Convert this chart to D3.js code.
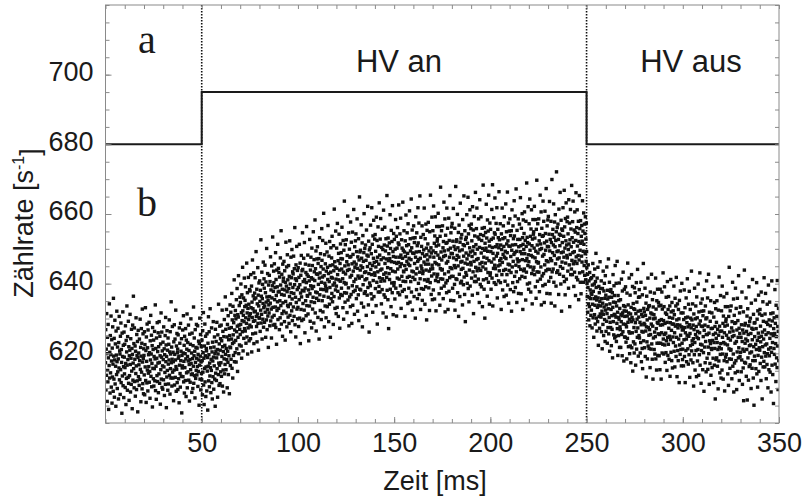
<!DOCTYPE html>
<html><head><meta charset="utf-8">
<script src="https://cdn.jsdelivr.net/npm/d3@7"></script>
<style>html,body{margin:0;padding:0;background:#fff;}svg{display:block;}</style>
</head><body>
<svg id="chart" width="806" height="497"></svg>
<script>
// ---- data ----
const sampleStep = 0.125; // ms between samples
const blockStarts = [0, 50, 100, 150, 200, 250, 300];
const rate000 = [
617.3,626.8,609.5,621.2,613.7,631.4,619.9,606.2,624.6,615.1,611.8,628.3,618.7,603.9,622.4,616.5,634.2,612.9,620.3,608.6,
625.1,614.4,619.6,630.7,610.3,617.8,623.9,605.7,621.5,613.2,627.6,616.9,609.1,635.8,619.2,612.6,624.3,607.4,618.1,629.5,
611.2,622.7,616.3,604.8,626.4,619.5,613.9,632.1,617.6,609.9,621.8,614.7,627.2,618.4,606.9,623.1,615.8,630.6,612.4,620.7,
619.8,608.2,624.9,615.3,628.7,611.6,621.1,617.4,602.8,625.8,613.5,619.1,631.9,610.7,622.3,616.2,607.3,626.1,618.9,614.1,
622.6,615.9,610.2,627.9,617.1,605.3,623.7,612.8,620.4,633.6,616.6,609.4,624.8,618.2,613.1,629.2,611.4,621.9,606.5,619.3,
613.6,620.9,631.2,616.8,608.9,624.2,618.6,611.1,626.9,614.9,621.4,604.1,619.7,628.1,612.3,617.2,636.4,615.6,622.8,610.1,
627.3,611.9,618.3,622.1,607.7,620.6,614.2,630.2,616.4,609.6,625.4,619.4,612.1,623.4,603.2,618.8,626.6,613.3,620.1,616.7,
610.8,624.1,617.9,612.5,629.8,615.4,621.7,606.1,619.2,627.1,614.6,622.9,609.8,632.7,617.5,611.3,625.6,618.5,608.4,621.3,
619.4,613.8,626.2,608.1,622.5,616.1,633.1,612.2,620.8,605.9,624.7,617.7,611.5,628.4,615.2,621.6,609.2,626.7,614.3,619.6,
616.2,628.9,611.7,620.2,614.8,607.1,623.6,618.1,630.9,613.4,619.8,625.2,610.4,617.1,622.2,604.6,627.4,615.7,621.1,612.7,
623.8,610.6,619.1,615.6,626.3,612.1,618.4,633.9,609.3,621.4,616.3,606.8,624.4,618.6,613.6,628.8,611.9,620.5,617.2,625.9,
608.7,621.9,614.1,629.1,617.4,611.4,624.9,619.3,605.4,622.7,615.3,631.6,612.6,618.9,626.1,610.2,620.7,616.4,609.7,623.2,
618.2,612.4,627.6,616.1,621.3,607.9,619.6,614.5,625.1,611.1,630.3,617.6,622.4,604.4,619.1,613.2,626.5,615.1,620.9,609.4,
624.4,616.9,611.2,622.6,618.1,629.6,613.7,620.4,608.3,626.2,615.6,619.8,612.9,634.8,617.3,621.8,610.6,618.3,627.7,614.6,
612.9,620.3,617.6,606.4,623.3,615.2,628.2,610.9,619.7,624.1,613.1,618.1,632.4,616.2,609.1,622.1,615.4,625.7,611.6,620.2,
621.2,609.6,625.3,618.6,612.7,619.2,605.8,627.3,616.6,622.9,614.2,610.3,628.6,617.9,620.6,613.4,624.2,602.9,619.4,615.8,
616.4,626.7,613.3,620.1,630.8,611.8,617.7,622.3,608.6,624.9,615.9,619.9,612.2,627.1,618.4,607.6,623.8,614.4,621.2,631.3,
610.1,619.1,623.1,614.7,617.8,628.1,612.3,620.8,616.8,606.3,625.5,618.2,611.7,622.6,615.3,629.9,617.1,613.9,620.1,608.8,
625.8,614.1,618.5,609.9,622.2,616.3,633.3,611.4,619.3,624.4,613.6,620.6,607.2,626.8,617.4,612.8,621.7,615.1,628.3,618.6,
613.8,621.5,616.2,627.9,610.5,619.7,614.8,623.5,618.1,605.1,622.8,616.6,630.1,612.6,619.2,625.4,609.5,617.6,621.9,614.2];
const rate050 = [
612.4,623.8,617.9,608.1,626.5,614.6,620.2,631.7,610.9,618.6,605.3,622.1,615.7,628.4,611.8,619.3,624.9,607.6,616.1,621.4,
620.7,609.2,625.6,614.9,618.8,603.7,622.9,616.3,630.5,612.1,619.6,626.2,610.4,617.2,613.5,632.8,615.9,621.6,608.7,618.3,
615.1,627.3,611.6,620.4,606.9,623.2,617.8,613.3,629.1,618.9,609.7,621.8,616.4,624.7,612.6,619.9,604.8,626.9,614.3,620.6,
623.4,612.2,618.7,628.9,615.6,621.1,607.4,625.3,619.8,613.9,634.1,617.2,610.8,622.7,616.6,627.8,611.3,620.9,624.2,614.7,
617.3,628.1,613.4,623.6,619.1,632.4,610.6,621.9,626.3,615.2,620.5,608.9,624.8,618.4,629.7,614.1,622.3,616.8,636.2,619.7,
626.9,615.3,621.4,632.6,618.2,624.7,610.1,628.3,620.6,617.4,630.8,613.9,623.9,619.3,627.2,608.4,625.1,621.8,633.9,616.5,
621.6,631.8,618.3,627.4,624.1,637.2,615.7,629.6,622.8,612.9,633.5,625.3,619.4,628.8,623.2,641.1,617.6,626.7,630.9,620.2,
632.3,623.7,629.9,617.5,635.4,626.2,621.3,638.6,627.8,614.8,631.1,624.6,630.4,642.3,619.9,628.1,633.7,622.4,626.9,636.1,
625.4,634.6,628.3,639.9,622.1,631.7,618.6,636.8,629.4,626.2,644.7,632.2,620.7,630.9,635.9,624.3,629.1,641.6,627.1,633.4,
635.2,626.4,639.1,630.2,622.9,633.8,628.6,645.9,624.7,631.6,637.4,619.8,632.9,627.3,641.8,629.7,634.1,623.6,630.7,638.3,
628.1,637.9,631.4,624.2,642.6,633.1,627.6,639.3,620.4,634.7,630.3,646.8,625.6,632.8,636.5,629.2,643.1,622.8,631.9,635.6,
637.3,629.4,641.7,632.1,625.8,635.9,649.2,630.6,627.7,638.4,623.3,634.2,631.3,644.6,628.6,636.7,620.9,633.6,640.2,630.1,
630.2,640.8,634.9,626.3,638.1,632.4,652.6,628.7,636.4,631.2,643.3,624.1,635.7,639.8,629.8,634.3,646.2,627.5,633.1,641.4,
638.7,628.9,633.6,645.3,631.8,637.4,624.6,640.5,634.7,629.6,650.1,636.2,626.8,632.6,642.9,630.7,635.2,621.7,639.6,633.9,
631.6,642.4,636.3,627.9,640.6,634.4,647.7,629.3,638.2,632.7,624.4,645.1,635.9,630.4,639.4,653.4,633.2,628.1,637.8,643.6,
640.3,630.9,645.7,635.4,628.3,638.9,633.3,648.9,627.4,641.2,636.6,622.6,643.9,632.3,639.1,634.8,651.3,629.7,637.6,644.4,
632.9,643.2,637.8,626.8,641.9,635.1,630.2,647.4,639.6,633.7,655.2,628.4,636.9,642.7,631.4,638.4,624.9,645.6,634.5,640.7,
641.6,632.1,646.4,636.7,629.1,643.7,638.2,623.8,640.4,634.9,651.9,631.6,639.3,644.8,627.6,637.7,648.3,633.8,641.1,630.4,
633.4,645.2,638.6,628.6,642.1,636.3,652.3,630.9,639.9,634.2,626.2,647.6,637.4,641.7,632.2,649.8,635.6,629.4,643.4,638.9,
642.8,633.3,647.9,637.2,630.6,644.3,639.7,656.1,628.2,641.4,636.1,624.7,645.4,634.6,640.9,650.7,632.7,638.3,643.8,629.9];
const rate100 = [
633.2,644.6,638.9,627.7,641.8,635.4,651.3,630.1,639.7,645.9,622.8,637.3,642.4,632.6,648.1,636.2,629.4,643.7,638.1,654.6,
644.1,634.3,640.6,629.8,647.3,637.9,632.4,651.8,641.2,625.9,638.7,645.6,635.1,643.2,630.8,640.3,656.4,633.7,642.6,636.6,
636.4,648.2,631.3,642.1,638.2,623.6,645.3,640.8,633.6,652.7,637.1,629.2,643.9,639.4,647.6,634.8,641.7,627.3,650.2,638.6,
645.2,632.7,641.3,636.1,654.9,639.2,628.7,646.9,643.4,634.6,640.9,658.3,631.6,644.3,637.6,649.4,626.4,642.8,635.8,647.1,
637.4,650.6,642.7,630.3,645.8,639.8,635.2,647.2,624.1,641.6,653.2,636.8,643.1,632.3,648.6,638.4,644.9,629.7,640.4,655.8,
646.7,635.1,641.9,652.4,631.9,644.2,638.3,660.2,636.4,642.3,627.6,648.3,640.1,633.6,645.7,639.3,651.6,630.2,643.6,637.9,
638.6,649.1,633.4,644.7,641.2,656.7,636.1,642.9,629.1,647.9,640.6,634.1,652.1,638.9,645.2,624.6,643.3,650.3,635.7,641.8,
647.4,637.2,653.6,641.6,634.8,645.4,639.6,628.3,650.9,643.7,636.3,661.4,640.2,646.3,632.9,644.8,638.2,655.1,641.3,631.4,
639.3,650.2,644.4,633.2,657.3,642.6,637.8,646.6,630.6,648.7,641.1,654.2,635.9,643.9,627.2,645.8,640.7,651.4,636.9,647.2,
648.9,638.7,644.2,656.2,636.6,647.1,641.4,633.1,652.4,643.3,629.8,649.6,640.3,663.7,637.4,645.1,634.7,651.2,642.8,639.9,
640.1,652.6,637.3,646.3,631.7,648.1,643.8,659.4,635.3,645.4,638.8,654.6,627.9,644.1,649.9,636.2,647.6,641.9,633.4,657.7,
647.8,636.9,651.9,642.4,628.6,645.7,639.4,654.8,633.8,648.4,643.6,637.7,661.3,640.6,646.2,631.2,650.6,644.7,638.1,652.3,
641.3,654.3,645.6,635.7,649.2,639.1,658.6,644.4,632.1,647.7,642.2,636.8,652.9,629.4,646.8,641.6,664.9,638.4,649.1,643.9,
649.6,638.2,645.1,656.9,634.4,647.3,642.1,651.7,627.6,644.6,653.8,639.7,646.4,633.3,648.9,660.1,637.2,643.2,650.1,641.1,
637.7,651.1,643.4,646.7,630.9,655.4,641.4,648.2,636.7,644.9,662.2,638.9,647.9,633.9,652.2,642.9,626.1,649.7,640.2,645.8,
650.3,639.4,656.8,644.1,637.1,648.6,642.6,661.8,635.6,651.3,645.2,631.8,653.7,640.9,647.3,658.2,636.3,646.1,643.1,652.8,
642.4,654.1,638.6,649.3,644.8,633.7,659.1,646.4,640.4,652.4,628.4,647.6,643.4,656.3,637.6,650.7,645.6,639.2,663.2,641.7,
648.2,637.6,652.8,643.9,658.7,640.7,646.9,634.2,650.4,644.2,638.3,655.6,641.4,649.8,631.6,647.4,661.1,642.7,636.8,651.1,
640.8,656.2,645.8,636.1,649.4,643.1,652.9,630.4,647.1,641.8,665.3,638.1,650.8,644.6,635.4,653.1,646.6,627.1,648.6,642.9,
651.7,641.2,647.2,659.8,638.4,650.1,644.3,633.4,655.3,646.3,640.2,652.1,637.4,662.4,643.6,649.2,631.1,647.8,654.4,639.4];
const rate150 = [
640.3,652.7,646.1,635.6,649.9,643.4,658.4,638.7,647.6,653.6,630.7,645.8,650.2,641.6,656.1,644.2,637.4,651.7,646.1,662.6,
651.2,641.3,647.6,636.8,654.3,644.9,639.4,658.8,648.2,632.9,645.7,652.6,642.1,650.2,637.8,647.3,663.4,640.7,649.6,643.6,
643.4,655.2,638.3,649.1,645.2,630.6,652.3,647.8,640.6,659.7,644.1,636.2,650.9,646.4,654.6,641.8,648.7,634.3,657.2,645.6,
651.2,638.7,647.3,642.1,660.9,645.2,634.7,652.9,649.4,640.6,646.9,664.3,637.6,650.3,643.6,655.4,632.4,648.8,641.8,653.1,
643.4,656.6,648.7,636.3,651.8,645.8,641.2,653.2,630.1,647.6,659.2,642.8,649.1,638.3,654.6,644.4,650.9,635.7,646.4,661.8,
651.7,640.1,646.9,657.4,636.9,649.2,643.3,665.2,641.4,647.3,632.6,653.3,645.1,638.6,650.7,644.3,656.6,635.2,648.6,642.9,
643.6,654.1,638.4,649.7,646.2,661.7,641.1,647.9,634.1,652.9,645.6,639.1,657.1,643.9,650.2,629.6,648.3,655.3,640.7,646.8,
651.4,641.2,657.6,645.6,638.8,649.4,643.6,632.3,654.9,647.7,640.3,665.4,644.2,650.3,636.9,648.8,642.2,659.1,645.3,635.4,
644.3,655.2,649.4,638.2,662.3,647.6,642.8,651.6,635.6,653.7,646.1,659.2,640.9,648.9,632.2,650.8,645.7,656.4,641.9,652.2,
652.9,642.7,648.2,660.2,640.6,651.1,645.4,637.1,656.4,647.3,633.8,653.6,644.3,667.7,641.4,649.1,638.7,655.2,646.8,643.9,
644.1,656.6,641.3,650.3,635.7,652.1,647.8,663.4,639.3,649.4,642.8,658.6,631.9,648.1,653.9,640.2,651.6,645.9,637.4,661.7,
651.8,640.9,655.9,646.4,632.6,649.7,643.4,658.8,637.8,652.4,647.6,641.7,665.3,644.6,650.2,635.2,654.6,648.7,642.1,656.3,
644.3,657.3,648.6,638.7,652.2,642.1,661.6,647.4,635.1,650.7,645.2,639.8,655.9,632.4,649.8,644.6,667.9,641.4,652.1,646.9,
652.6,641.2,648.1,659.9,637.4,650.3,645.1,654.7,630.6,647.6,656.8,642.7,649.4,636.3,651.9,663.1,640.2,646.2,653.1,644.1,
640.7,654.1,646.4,649.7,633.9,658.4,644.4,651.2,639.7,647.9,665.2,641.9,650.9,636.9,655.2,645.9,629.1,652.7,643.2,648.8,
653.3,642.4,659.8,647.1,640.1,651.6,645.6,664.8,638.6,654.3,648.2,634.8,656.7,643.9,650.3,661.2,639.3,649.1,646.1,655.8,
645.4,657.1,641.6,652.3,647.8,636.7,662.1,649.4,643.4,655.4,631.4,650.6,646.4,659.3,640.6,653.7,648.6,642.2,666.2,644.7,
651.2,640.6,655.8,646.9,661.7,643.7,649.9,637.2,653.4,647.2,641.3,658.6,644.4,652.8,634.6,650.4,664.1,645.7,639.8,654.1,
643.8,659.2,648.8,639.1,652.4,646.1,655.9,633.4,650.1,644.8,668.3,641.1,653.8,647.6,638.4,656.1,649.6,630.1,651.6,645.9,
654.7,644.2,650.2,662.8,641.4,653.1,647.3,636.4,658.3,649.3,643.2,655.1,640.4,665.4,646.6,652.2,634.1,650.8,657.4,642.4];
const rate200 = [
643.1,655.6,649.2,638.4,652.7,646.2,661.3,641.6,650.4,668.4,633.6,648.7,653.1,644.4,658.9,647.1,640.3,654.6,645.3,664.6,
654.2,644.3,650.6,639.8,657.3,647.9,642.4,661.8,651.2,635.9,648.7,655.6,645.1,653.2,640.8,650.3,666.4,643.7,652.6,646.6,
645.4,657.2,640.3,651.1,647.2,632.6,654.3,649.8,642.6,661.7,646.1,638.2,652.9,648.4,656.6,643.8,650.7,636.3,659.2,647.6,
653.2,640.7,649.3,644.1,662.9,647.2,636.7,654.9,651.4,642.6,648.9,666.3,639.6,652.3,645.6,657.4,634.4,650.8,643.8,655.1,
645.4,658.6,650.7,638.3,653.8,647.8,643.2,655.2,632.1,649.6,661.2,644.8,651.1,640.3,656.6,646.4,652.9,637.7,648.4,663.8,
653.7,642.1,648.9,659.4,638.9,651.2,645.3,667.2,643.4,649.3,634.6,655.3,647.1,640.6,652.7,646.3,658.6,637.2,650.6,644.9,
646.6,657.1,641.4,652.7,649.2,664.7,644.1,650.9,637.1,655.9,648.6,642.1,660.1,646.9,653.2,632.6,651.3,658.3,643.7,649.8,
654.4,644.2,660.6,648.6,641.8,652.4,646.6,635.3,657.9,650.7,643.3,668.9,647.2,653.3,639.9,651.8,645.2,662.1,648.3,638.4,
646.3,657.2,651.4,640.2,664.3,649.6,644.8,653.6,637.6,655.7,648.1,661.2,642.9,650.9,634.2,652.8,647.7,658.4,643.9,654.2,
654.9,644.7,650.2,662.2,642.6,653.1,647.4,639.1,658.4,649.3,635.8,655.6,646.3,669.7,643.4,651.1,640.7,657.2,648.8,645.9,
646.1,658.6,643.3,652.3,637.7,654.1,649.8,665.4,641.3,651.4,644.8,660.6,633.9,650.1,655.9,642.2,653.6,647.9,639.4,663.7,
653.8,642.9,657.9,648.4,634.6,651.7,645.4,660.8,639.8,654.4,649.6,643.7,667.3,646.6,652.2,637.2,656.6,650.7,644.1,658.3,
646.3,659.3,650.6,640.7,654.2,644.1,663.6,649.4,637.1,652.7,647.2,641.8,657.9,634.4,651.8,646.6,669.9,643.4,654.1,648.9,
655.6,644.2,651.1,662.9,640.4,653.3,648.1,657.7,633.6,650.6,659.8,645.7,652.4,639.3,654.9,672.1,643.2,649.2,656.1,647.1,
643.7,657.1,649.4,652.7,636.9,661.4,647.4,654.2,642.7,650.9,666.2,644.9,653.9,639.9,658.2,648.9,632.1,655.7,646.2,651.8,
655.3,644.4,661.8,649.1,642.1,653.6,647.6,666.8,640.6,656.3,650.2,636.8,658.7,645.9,652.3,663.2,641.3,651.1,648.1,657.8,
647.4,659.1,643.6,654.3,649.8,638.7,664.1,651.4,645.4,657.4,633.4,652.6,648.4,661.3,642.6,655.7,650.6,644.2,668.2,646.7,
653.2,642.6,657.8,648.9,663.7,645.7,651.9,639.2,655.4,649.2,643.3,660.6,646.4,654.8,636.6,652.4,666.1,647.7,641.8,656.1,
645.8,661.2,650.8,641.1,654.4,648.1,657.9,635.4,652.1,646.8,665.3,643.1,655.8,649.6,640.4,658.1,651.6,637.1,653.6,647.9,
656.7,646.2,652.2,663.8,643.4,655.1,649.3,640.4,660.3,651.3,645.2,657.1,642.4,654.4,648.6,659.2,641.1,652.8,646.4,657.4];
const rate250 = [
649.2,644.6,640.1,636.3,642.7,631.8,638.9,645.4,634.2,629.6,640.8,636.1,633.4,643.2,627.9,638.2,635.7,641.4,630.9,637.3,
632.4,641.7,636.9,627.3,639.6,634.1,645.8,630.2,637.8,642.3,624.6,635.7,639.9,631.1,644.2,633.8,628.4,640.6,636.2,648.7,
638.9,630.1,635.3,626.4,641.6,633.2,629.1,644.7,635.9,622.3,633.8,639.2,630.6,637.4,627.2,634.9,646.3,631.3,638.6,633.6,
630.4,640.8,626.2,635.7,632.1,621.3,638.6,634.4,628.3,643.6,631.2,625.1,637.9,633.3,640.1,629.7,635.8,623.4,642.3,632.4,
636.7,626.3,633.9,629.2,644.8,631.4,622.9,638.1,635.6,627.4,632.8,647.1,625.6,636.1,630.3,640.4,620.6,634.2,628.9,637.8,
627.4,638.3,632.6,622.2,636.1,630.8,626.9,637.4,618.7,633.2,642.6,629.1,634.7,625.3,639.4,631.2,636.6,624.4,630.9,645.2,
634.6,624.9,630.4,640.1,623.4,633.6,628.6,646.4,627.1,631.8,619.4,636.6,630.3,625.1,635.1,629.8,640.2,621.7,632.9,627.6,
626.8,635.4,621.7,631.2,629.1,641.3,625.4,630.8,619.3,637.9,631.6,626.2,643.3,628.4,633.7,617.8,632.2,638.4,624.7,630.6,
633.4,624.6,639.1,628.3,623.2,632.1,627.6,618.4,637.3,630.7,624.3,645.9,628.9,633.9,621.9,631.6,626.2,641.6,629.8,619.9,
625.8,636.7,622.1,631.3,617.3,633.2,629.1,642.6,621.6,630.3,625.9,639.2,614.9,629.6,634.3,623.3,632.8,627.4,620.1,638.8,
632.6,622.7,637.4,628.8,616.6,631.4,626.3,640.3,621.2,634.7,629.8,624.6,644.1,627.3,632.1,619.2,636.1,630.4,625.1,638.3,
624.4,636.2,628.9,620.1,632.3,623.1,640.4,628.2,617.6,631.2,626.3,621.4,636.8,615.6,630.6,626.1,645.8,623.6,632.9,628.6,
631.9,621.6,628.2,638.7,619.1,630.9,626.4,634.4,613.2,627.6,636.4,623.3,629.6,618.4,632.6,641.6,622.1,627.4,633.4,625.2,
621.4,633.7,626.8,630.1,615.9,637.6,625.4,631.6,621.2,628.4,642.7,622.7,631.3,618.3,635.4,627.8,612.6,633.3,624.4,629.9,
631.1,621.1,637.3,626.1,619.8,630.1,624.8,641.6,618.4,632.7,627.1,615.2,635.1,622.9,628.9,638.4,619.4,628.6,625.6,634.6,
622.9,633.6,619.3,629.4,625.4,615.3,638.4,628.1,622.9,633.8,612.6,629.7,625.9,637.6,620.1,632.7,628.2,622.6,643.1,624.1,
629.4,619.8,633.4,625.4,639.1,622.4,628.6,617.4,631.6,625.8,620.2,636.1,623.6,631.2,615.1,628.9,640.6,624.6,619.4,632.6,
622.6,636.3,627.2,618.3,630.3,624.9,633.6,613.4,628.8,623.9,641.2,620.3,631.9,626.6,617.9,634.6,628.4,615.8,630.1,624.7,
632.2,623.1,628.4,639.3,620.6,631.1,625.9,616.1,635.8,627.8,622.1,633.6,619.1,641.8,624.6,629.6,613.3,628.2,634.2,620.8,
627.3,617.9,632.6,624.1,629.9,611.6,635.2,622.4,628.1,619.7,637.9,625.2,621.1,631.6,616.4,627.6,640.1,622.9,626.7,618.2];
const rate300 = [
621.2,631.6,626.8,616.4,629.7,623.9,638.2,619.1,627.4,633.1,611.6,625.9,630.2,620.8,635.9,624.1,617.6,628.8,625.2,641.4,
630.4,621.3,627.6,616.9,634.1,624.9,619.6,637.8,628.2,613.1,625.7,632.6,622.2,630.1,618.1,627.3,643.6,620.7,629.6,623.6,
622.6,634.2,617.3,628.1,624.2,610.6,631.3,626.8,619.6,638.7,623.1,615.2,629.9,625.4,633.6,620.8,627.7,613.3,636.2,624.6,
630.2,617.8,626.3,621.1,639.9,624.2,613.7,631.9,628.4,619.6,625.9,643.1,616.6,629.3,622.6,634.4,611.4,627.8,620.8,632.1,
622.4,635.6,627.7,615.3,630.8,624.8,620.2,632.2,609.1,626.6,638.2,621.8,628.1,617.3,633.6,623.4,629.9,614.7,625.4,640.8,
630.2,618.6,625.4,635.9,615.4,627.7,621.8,642.7,619.9,625.8,611.1,631.8,623.6,617.1,629.2,622.8,635.1,613.7,627.1,621.4,
621.1,631.6,615.9,627.2,623.7,639.2,618.6,625.4,611.6,630.4,623.1,616.6,634.6,621.4,627.7,606.9,625.8,632.8,618.2,624.3,
628.9,618.7,635.1,623.1,616.3,626.9,621.1,609.8,632.4,625.2,617.8,641.9,621.7,627.8,614.4,626.3,619.7,636.6,622.8,612.9,
621.3,632.2,626.4,615.2,639.3,624.6,619.8,628.6,612.6,630.7,623.1,636.2,617.9,625.9,609.2,627.8,622.7,633.4,618.9,629.2,
629.9,619.7,625.2,637.2,617.6,628.1,622.4,614.1,633.4,624.3,610.8,630.6,621.3,644.7,618.4,626.1,615.7,632.2,623.8,620.9,
621.1,633.6,618.3,627.3,612.7,629.1,624.8,640.4,616.3,626.4,619.8,635.6,608.9,625.1,630.9,617.2,628.6,622.9,614.4,638.7,
628.8,617.9,632.9,623.4,609.6,626.7,620.4,635.8,614.8,629.4,624.6,618.7,642.3,621.6,627.2,612.2,631.6,625.7,619.1,633.3,
620.3,633.3,624.6,614.7,628.2,618.1,637.6,623.4,611.1,626.7,621.2,615.8,631.9,606.4,625.8,620.6,643.9,617.4,628.1,622.9,
628.6,617.2,624.1,635.9,613.4,626.3,621.1,630.7,606.6,623.6,632.8,618.7,625.4,612.3,627.9,639.1,616.2,622.2,629.1,620.1,
616.7,630.1,622.4,625.7,609.9,634.4,620.4,627.2,615.7,623.9,641.2,617.9,626.9,612.9,631.2,621.9,605.1,628.7,619.2,624.8,
628.8,617.9,635.3,622.6,615.6,627.1,621.1,640.3,614.1,629.8,623.7,610.3,632.2,619.4,625.8,636.7,614.8,624.6,621.6,631.3,
620.9,632.6,617.1,627.8,623.3,612.2,637.6,624.9,618.9,630.9,606.9,626.1,621.9,634.8,616.1,629.2,624.1,617.7,641.7,620.2,
626.7,616.1,631.3,622.4,637.2,619.2,625.4,612.7,628.9,622.7,616.8,634.1,619.9,628.3,610.1,625.9,639.6,621.2,615.3,629.6,
619.3,634.7,624.3,614.6,627.9,621.6,631.4,608.9,625.6,620.3,640.8,616.6,629.3,623.1,613.9,631.6,625.1,605.6,627.1,621.4,
630.2,619.7,625.7,638.3,616.9,628.6,622.8,611.9,633.8,624.8,618.7,630.6,615.9,640.9,622.1,627.7,609.6,626.3,632.9,617.9];
const rateBlocks = [rate000, rate050, rate100, rate150, rate200, rate250, rate300];

// HV state (step curve): times and level
const stepTimes = [0, 50, 250, 350];
const stepLevels = [680, 695, 680, 680];
const switchTimes = [50, 250];

const xMajorTicks = [50, 100, 150, 200, 250, 300, 350];
const yMajorTicks = [620, 640, 660, 680, 700];
const xLabel = "Zeit [ms]";
const yLabelMain = "Zählrate [s";
const yLabelSup = "-1";
const stateLabels = ["HV an", "HV aus"];
const panelLabels = ["a", "b"];

// ---- chart ----
const svg = d3.select("#chart");
const L = 105.5, R = 779, T = 5, B = 423;
const x = d3.scaleLinear().domain([0, 350]).range([L, R]);
const y = d3.scaleLinear().domain([600, 720]).range([B, T]);
const sans = "'Liberation Sans', Arial, Helvetica, sans-serif";
const serif = "'Liberation Serif', 'Times New Roman', serif";
const gray = "#8a8a8a";

svg.append("defs").append("clipPath").attr("id", "clip")
  .append("rect").attr("x", L).attr("y", T).attr("width", R - L).attr("height", B - T);

// points
const pts = [];
rateBlocks.forEach((arr, bi) => arr.forEach((v, i) => pts.push({t: blockStarts[bi] + i * sampleStep, v})));
const ms = 3.4;
svg.append("g").attr("clip-path", "url(#clip)").selectAll("rect").data(pts).join("rect")
  .attr("x", d => x(d.t) - ms / 2).attr("y", d => y(d.v) - ms / 2)
  .attr("width", ms).attr("height", ms).attr("fill", "#121212");

// dotted switch lines
svg.append("g").selectAll("line").data(switchTimes).join("line")
  .attr("x1", d => x(d)).attr("x2", d => x(d)).attr("y1", T).attr("y2", B)
  .attr("stroke", "#111").attr("stroke-width", 1.6).attr("stroke-dasharray", "1.6 1.4");

// step line
const stepData = stepTimes.map((t, i) => ({t, v: stepLevels[i]}));
svg.append("path").datum(stepData)
  .attr("d", d3.line().x(d => x(d.t)).y(d => y(d.v)).curve(d3.curveStepAfter))
  .attr("fill", "none").attr("stroke", "#1a1a1a").attr("stroke-width", 2);

// axes
function styleAxis(g) {
  g.select(".domain").remove();
  g.selectAll(".tick line").attr("stroke", gray).attr("stroke-width", 1);
  g.selectAll(".tick text").attr("fill", "#1a1a1a").style("font-family", sans).style("font-size", "27px");
}
const xMinor = d3.range(0, 351, 10), yMinor = d3.range(600, 721, 5);
svg.append("g").attr("transform", `translate(0,${B})`)
  .call(d3.axisBottom(x).tickValues(xMinor).tickSize(-4).tickFormat("")).call(styleAxis);
svg.append("g").attr("transform", `translate(0,${B})`)
  .call(d3.axisBottom(x).tickValues(xMajorTicks).tickSize(-6).tickPadding(10).tickFormat(d3.format("d"))).call(styleAxis);
svg.append("g").attr("transform", `translate(0,${T})`)
  .call(d3.axisTop(x).tickValues(xMinor).tickSize(-4).tickFormat("")).call(styleAxis);
svg.append("g").attr("transform", `translate(${L},0)`)
  .call(d3.axisLeft(y).tickValues(yMinor).tickSize(-4).tickFormat("")).call(styleAxis);
const yAx = svg.append("g").attr("transform", `translate(${L},0)`)
  .call(d3.axisLeft(y).tickValues(yMajorTicks).tickSize(-6).tickPadding(12).tickFormat(d3.format("d"))).call(styleAxis);
yAx.selectAll(".tick text").attr("dy", "0.21em");
svg.append("g").attr("transform", `translate(${R},0)`)
  .call(d3.axisRight(y).tickValues(yMinor).tickSize(-4).tickFormat("")).call(styleAxis);

// frame
svg.append("rect").attr("x", L).attr("y", T).attr("width", R - L).attr("height", B - T)
  .attr("fill", "none").attr("stroke", gray).attr("stroke-width", 1);

// labels
svg.append("text").attr("x", 435).attr("y", 490).attr("text-anchor", "middle")
  .style("font-family", sans).style("font-size", "27px").attr("fill", "#1a1a1a").text(xLabel);
const yl = svg.append("text").attr("transform", "translate(33,223) rotate(-90)").attr("text-anchor", "middle")
  .style("font-family", sans).style("font-size", "27px").attr("fill", "#1a1a1a");
yl.append("tspan").text(yLabelMain);
yl.append("tspan").attr("dy", "-0.55em").style("font-size", "16px").text(yLabelSup);
yl.append("tspan").attr("dy", "0.55em").text("]");

svg.append("g").selectAll("text").data(stateLabels).join("text")
  .attr("x", (d, i) => i === 0 ? 399 : 691).attr("y", 72).attr("text-anchor", "middle")
  .style("font-family", sans).style("font-size", "31px").attr("fill", "#1a1a1a").text(d => d);
svg.append("g").selectAll("text").data(panelLabels).join("text")
  .attr("x", 147).attr("y", (d, i) => i === 0 ? 53 : 216).attr("text-anchor", "middle")
  .style("font-family", serif).style("font-size", "40px").attr("fill", "#1a1a1a").text(d => d);
</script>
</body></html>
